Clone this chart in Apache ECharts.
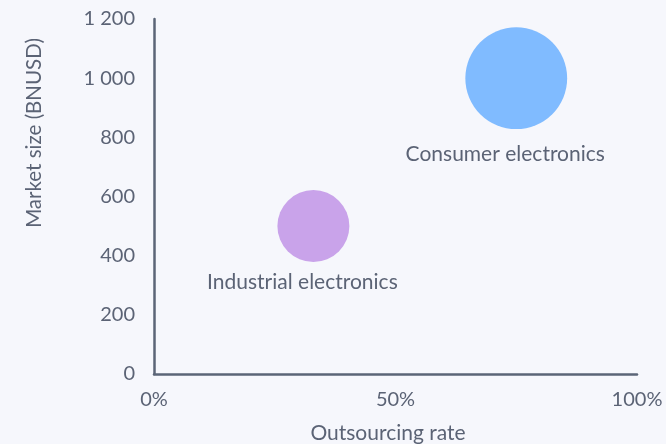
<!DOCTYPE html>
<html>
<head>
<meta charset="utf-8">
<style>
  html, body { margin: 0; padding: 0; background: #f6f7fc; }
  #chart { width: 666px; height: 444px; }
</style>
<script src="https://cdn.jsdelivr.net/npm/echarts@6/dist/echarts.min.js"></script>
</head>
<body>
<div id="chart"></div>
<script>
// Segments: outsourcing rate (%) vs market size (BN USD); bubble area follows market size
const segments = ['Industrial electronics', 'Consumer electronics'];
const outsourcingRate = [33, 75];
const marketSize = [500, 1000];
const bubbleColors = ['#c9a3ea', '#80bbff'];
const xTicks = [0, 50, 100];
const yTicks = [0, 200, 400, 600, 800, 1000, 1200];

const textColor = '#5b6375';
const fontFamily = 'Lato, "Open Sans", sans-serif';

function groupThousands(v) {
  return String(v).replace(/\B(?=(\d{3})+(?!\d))/g, ' ');
}

const labelDistance = [10, 15];

const series = segments.map((name, i) => ({
  name: name,
  type: 'scatter',
  data: [[outsourcingRate[i], marketSize[i]]],
  symbolSize: (d) => Math.sqrt(d[1]) * 3.22,
  itemStyle: { color: bubbleColors[i], opacity: 1 },
  label: {
    show: true,
    position: 'bottom',
    distance: labelDistance[i],
    offset: [-11, 0],
    formatter: name,
    color: textColor,
    fontSize: 21,
    fontFamily: fontFamily
  },
  emphasis: { disabled: true }
}));

const chart = echarts.init(document.getElementById('chart'));
chart.setOption({
  backgroundColor: '#f6f7fc',
  animation: false,
  grid: { left: 154, right: 29, top: 19, bottom: 70 },
  xAxis: {
    type: 'value',
    min: xTicks[0],
    max: xTicks[xTicks.length - 1],
    interval: xTicks[1] - xTicks[0],
    axisLine: { show: true, lineStyle: { color: '#5b6577', width: 2.5 } },
    axisTick: { show: false },
    splitLine: { show: false },
    axisLabel: {
      margin: 16,
      color: textColor,
      fontSize: 20,
      fontFamily: fontFamily,
      formatter: (v) => v + '%'
    }
  },
  yAxis: {
    type: 'value',
    min: yTicks[0],
    max: yTicks[yTicks.length - 1],
    interval: yTicks[1] - yTicks[0],
    axisLine: { show: true, lineStyle: { color: '#5b6577', width: 2.5 } },
    axisTick: { show: false },
    splitLine: { show: false },
    axisLabel: {
      margin: 19,
      color: textColor,
      fontSize: 20,
      fontFamily: fontFamily,
      formatter: (v) => groupThousands(v)
    }
  },
  graphic: [
    {
      type: 'text',
      x: 34,
      y: 133,
      rotation: Math.PI / 2,
      style: {
        text: 'Market size (BNUSD)',
        fill: textColor,
        font: '20.5px ' + fontFamily,
        align: 'center',
        verticalAlign: 'middle'
      }
    },
    {
      type: 'text',
      x: 388,
      y: 433,
      style: {
        text: 'Outsourcing rate',
        fill: textColor,
        font: '21px ' + fontFamily,
        align: 'center',
        verticalAlign: 'middle'
      }
    }
  ],
  series: series
});
</script>
</body>
</html>
